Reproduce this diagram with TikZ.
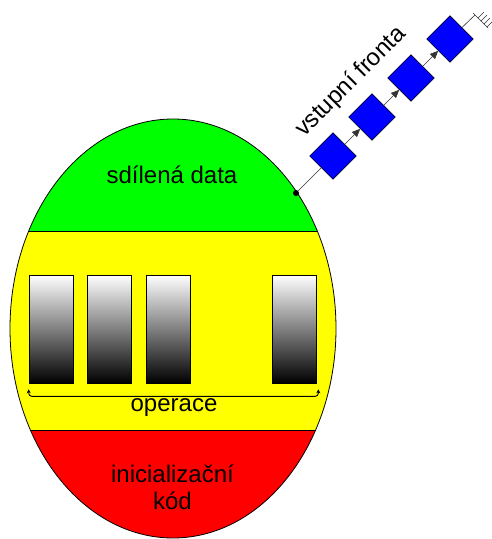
\documentclass[tikz,border=0pt]{standalone}
\usepackage{fontspec}
\setmainfont{Liberation Sans}
\usepackage{tikz}
\usetikzlibrary{arrows.meta, calc}
\definecolor{monshared}{HTML}{00FF00}
\definecolor{monops}{HTML}{FFFF00}
\definecolor{moninit}{HTML}{FF0000}
\definecolor{monqueue}{HTML}{0000FF}

\begin{document}
\begin{tikzpicture}[
  x=1pt, y=-1pt,
  lbl/.style={font=\fontsize{24}{27}\selectfont, align=center, inner sep=0pt, anchor=base},
  opbox/.style={draw=black, line width=0.6pt, minimum width=44pt, minimum height=108pt, inner sep=0pt, top color=white, bottom color=black},
  qbox/.style={rectangle, rotate=45, draw=black, line width=0.5pt, fill=monqueue, minimum size=33pt, inner sep=0pt},
  qln/.style={line width=0.6pt, black!80},
  qarr/.style={qln, -{Triangle[length=8pt, width=7pt]}},
  brc/.style={line width=0.9pt, rounded corners=3pt, {Stealth[length=4pt, width=4pt]}-{Stealth[length=4pt, width=4pt]}}
]
\useasboundingbox (0,0) rectangle (491,539);

% monitor body: three bands cut out of one ellipse
\begin{scope}
  \clip (173,328.5) ellipse [x radius=163pt, y radius=209.5pt];
  \fill[monshared] (0,100) rectangle (350,231);
  \fill[monops] (0,231) rectangle (350,430);
  \fill[moninit] (0,430) rectangle (350,545);
  \draw[line width=0.6pt] (0,231) -- (350,231);
  \draw[line width=0.6pt] (0,430) -- (350,430);
\end{scope}
\draw[line width=0.8pt] (173,328.5) ellipse [x radius=163pt, y radius=209.5pt];

\node[lbl] (shared) at (172,183) {sdílená data};

% operations
\node[opbox] (op1) at (51,329) {};
\node[opbox] (op2) at (109.5,329) {};
\node[opbox] (op3) at (168.5,329) {};
\node[opbox] (op4) at (294,329) {};

\coordinate (brl) at ($(op1.south west)+(0,6)$);
\coordinate (brr) at ($(op4.south east)+(2,6)$);
\draw[brc] (brl) -- ++(0,7) -| (brr);
\node[lbl] (ops) at (174,411) {operace};

\node[lbl] (init) at (172.5,509) {inicializační\\kód};

% entry queue
\node[circle, fill=black, inner sep=0pt, minimum size=6pt] (port) at (296,193) {};
\node[qbox] (sq1) at (333,156) {};
\node[qbox] (sq2) at (372,117) {};
\node[qbox] (sq3) at (411,78) {};
\node[qbox] (sq4) at (450,39) {};
\coordinate (gnd) at (475,15);

\draw[qln] (port) -- (sq1);
\draw[qarr] (sq1) -- (sq2);
\draw[qarr] (sq2) -- (sq3);
\draw[qarr] (sq3) -- (sq4);
\draw[qln] (sq4) -- (gnd);
\draw[qln] ($(gnd)+(-2,-2)$) -- ($(gnd)+(13,13)$);
\foreach \k in {1,2,3,4}
  \draw[qln] ($(gnd)+(3*\k,3*\k)$) -- ++(6,-6);

\node[lbl, anchor=center, rotate=45] (qlabel) at (351,82) {vstupní fronta};
\end{tikzpicture}
\end{document}
